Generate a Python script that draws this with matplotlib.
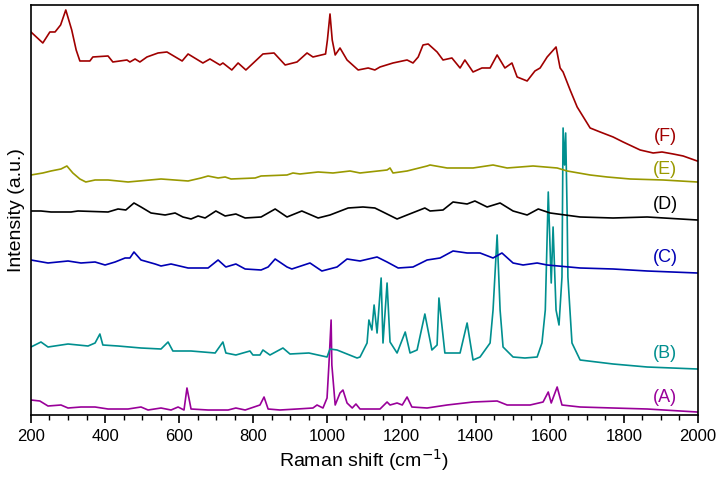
import numpy as np
import matplotlib.pyplot as plt

plt.rcParams['font.family'] = ['Liberation Sans', 'DejaVu Sans']

# spectra (offset intensities, arbitrary units)
f_x = [200, 232, 251, 265, 280, 294, 310, 322, 332, 359, 367, 408, 421, 459, 467, 481, 494, 513, 543, 567,
       608, 624, 664, 683, 710, 718, 742, 759, 780, 826, 856, 886, 918, 945, 961, 995, 1000, 1007, 1013,
       1021, 1034, 1053, 1083, 1110, 1128, 1142, 1177, 1215, 1231, 1245, 1258, 1272, 1296, 1312, 1336,
       1358, 1371, 1393, 1417, 1439, 1458, 1479, 1498, 1512, 1539, 1560, 1574, 1593, 1617, 1628, 1636,
       1655, 1674, 1709, 1736, 1771, 1798, 1844, 1879, 1903, 1933, 1960, 1998]
f_y = [383, 372, 383, 383, 390, 405, 385, 365, 354, 354, 358, 359, 353, 355, 353, 356, 353, 358, 362, 363,
       354, 361, 352, 356, 350, 352, 345, 352, 345, 361, 362, 350, 353, 362, 358, 361, 375, 401, 375,
       360, 367, 355, 345, 347, 345, 348, 352, 355, 352, 358, 370, 371, 363, 355, 357,
       347, 355, 343, 347, 347, 360, 347, 352, 338, 334, 344, 347, 358, 368, 347, 343,
       325, 308, 287, 283, 278, 273, 265, 262, 263, 261, 259, 254]

e_x = [200, 232, 254, 281, 297, 313, 332, 348, 373, 408, 462, 551, 624, 659, 678, 705, 724, 740, 805, 821,
       891, 907, 926, 975, 1015, 1061, 1088, 1161, 1169, 1177, 1215, 1269, 1277, 1323, 1393, 1447, 1485,
       1555, 1620, 1647, 1709, 1755, 1817, 1906, 1998]
e_y = [240, 242, 244, 246, 249, 242, 236, 233, 235, 235, 233, 236, 234, 237, 239, 237, 238, 236, 237, 239,
       240, 242, 241, 243, 242, 244, 242, 245, 247, 242, 244, 249, 250, 247, 247, 250, 247,
       249, 247, 244, 240, 238, 236, 235, 233]

d_x = [200, 227, 254, 308, 327, 408, 435, 456, 478, 497, 524, 562, 589, 610, 632, 651, 670, 699, 724, 753,
       778, 821, 840, 859, 891, 931, 975, 1007, 1056, 1096, 1128, 1150, 1188, 1215, 1263, 1277, 1312,
       1339, 1377, 1398, 1431, 1466, 1501, 1539, 1569, 1601, 1682, 1771, 1863, 1998]
d_y = [204, 204, 203, 203, 204, 203, 206, 205, 212, 208, 202, 200, 202, 198, 196, 199, 197, 204, 199, 201,
       197, 198, 202, 206, 198, 204, 197, 200, 207, 208, 207, 203, 196, 200, 207, 204, 205,
       213, 211, 214, 208, 212, 204, 200, 206, 202, 198, 197, 198, 195]

c_x = [200, 246, 300, 335, 373, 400, 427, 454, 467, 478, 497, 535, 551, 578, 624, 678, 705, 726, 753, 778,
       821, 840, 859, 891, 904, 953, 985, 1026, 1053, 1088, 1134, 1161, 1191, 1231, 1269, 1304, 1339,
       1377, 1412, 1447, 1471, 1501, 1528, 1566, 1593, 1682, 1771, 1863, 1998]
c_y = [155, 152, 154, 152, 153, 150, 153, 157, 157, 163, 155, 151, 149, 151, 147, 147, 155, 148, 151, 146,
       145, 148, 156, 148, 146, 152, 144, 148, 156, 154, 158, 153, 147, 148, 155, 157, 164,
       162, 162, 157, 162, 152, 150, 152, 150, 147, 146, 144, 142]

b_x = [200, 227, 246, 300, 354, 373, 386, 394, 435, 497, 551, 570, 583, 632, 697, 718, 726, 753, 791, 799,
       818, 826, 845, 880, 899, 950, 999, 1007, 1026, 1080, 1088, 1107, 1112, 1120, 1126, 1134, 1145,
       1150, 1161, 1169, 1188, 1210, 1223, 1242, 1263, 1282, 1296, 1301, 1317, 1358, 1377, 1393, 1412,
       1439, 1447, 1458, 1466, 1474, 1501, 1533, 1566, 1579, 1588, 1596, 1604, 1609, 1617, 1625, 1633,
       1636, 1640, 1643, 1647, 1649, 1660, 1682, 1771, 1863, 1998]
b_y = [68, 73, 68, 71, 69, 72, 81, 70, 69, 67, 66, 73, 64, 64, 62, 73, 62, 60, 64, 60,
       60, 65, 60, 67, 61, 62, 58, 66, 65, 57, 58, 72, 95, 85, 110, 82, 137,
       72, 132, 73, 62, 83, 62, 65, 101, 65, 70, 117, 62, 62, 92, 55, 58,
       72, 105, 180, 105, 68, 58, 57, 58, 72, 105, 223, 132, 188, 105, 90, 138,
       287, 250, 282, 200, 138, 72, 55, 51, 48, 46]

a_x = [200, 224, 246, 281, 300, 335, 373, 408, 462, 497, 516, 551, 578, 597, 613, 621, 632, 678, 732, 753,
       778, 818, 829, 840, 872, 918, 961, 972, 988, 999, 1004, 1010, 1012, 1021, 1034, 1042, 1053, 1067,
       1077, 1088, 1142, 1161, 1169, 1188, 1202, 1215, 1228, 1269, 1323, 1393, 1458, 1485, 1547, 1582,
       1596, 1604, 1620, 1633, 1682, 1771, 1863, 1998]
a_y = [15, 14, 9, 10, 7, 8, 8, 6, 6, 8, 5, 7, 5, 8, 5, 27, 6, 5, 5, 7,
       5, 10, 18, 6, 5, 6, 7, 10, 7, 17, 50, 95, 50, 10, 22, 25, 12, 7,
       11, 6, 6, 13, 10, 12, 10, 18, 8, 7, 10, 13, 14, 10, 10, 13,
       23, 12, 28, 10, 8, 7, 6, 3]

spectra = [(a_x, a_y, '#990099', '(A)', 18), (b_x, b_y, '#008f8f', '(B)', 62),
           (c_x, c_y, '#0000b4', '(C)', 157), (d_x, d_y, '#000000', '(D)', 210),
           (e_x, e_y, '#999900', '(E)', 245), (f_x, f_y, '#a00000', '(F)', 278)]

fig = plt.figure(figsize=(7.2, 4.79), dpi=100)
ax = fig.add_axes([0.043, 0.1336, 0.9264, 0.856])

for xs, ys, col, lab, ly in spectra:
    ax.plot(xs, ys, color=col, lw=1.2)
    ax.text(1911, ly, lab, color=col, fontsize=13, ha='center', va='center')

ax.set_xlim(200, 2000)
ax.set_ylim(0, 410)
ax.set_xticks(np.arange(200, 2001, 200))
ax.set_xticks(np.arange(200, 2001, 50), minor=True)
ax.set_yticks([])
ax.tick_params(axis='x', which='major', direction='out', length=6, width=1.2, labelsize=12, pad=4)
ax.tick_params(axis='x', which='minor', direction='out', length=3.5, width=1.0)
for s in ax.spines.values():
    s.set_linewidth(1.2)

ax.set_xlabel('Raman shift (cm$^{-1}$)', fontsize=14, labelpad=2)
ax.set_ylabel('Intensity (a.u.)', fontsize=14, labelpad=4)

fig.savefig('out.png', dpi=100)
